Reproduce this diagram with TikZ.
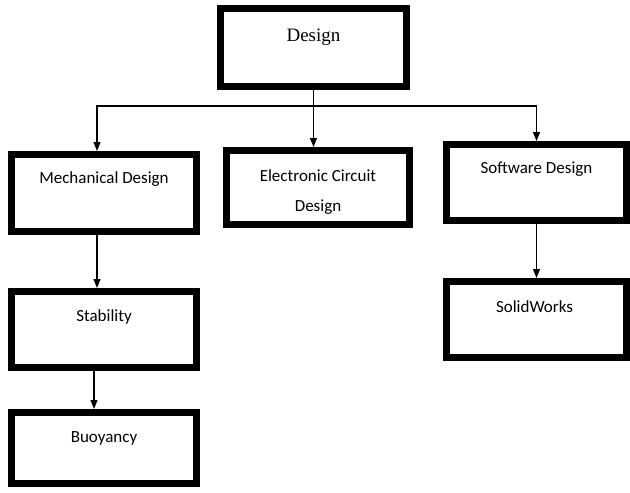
\documentclass[tikz,border=0pt]{standalone}
\usepackage{fontspec}
\setmainfont{Carlito}
\newfontfamily\titlefont{Liberation Serif}
\usetikzlibrary{arrows.meta, positioning}

\begin{document}
\begin{tikzpicture}[x=1pt, y=-1pt,
    box/.style={draw, line width=7pt, inner sep=0pt},
    txt/.style={anchor=center, align=center, font=\fontsize{17}{30}\selectfont},
    link/.style={line width=1.2pt},
    arr/.style={link, -{Triangle[length=9pt, width=7pt]}}]

    % Fix the page size
    \useasboundingbox (0,0) rectangle (630,493);

    % Draw the boxes
    \foreach \name/\x/\y/\w/\h/\off/\text in {
            design/313.5/47.5/186/78/32/{\titlefont\fontsize{19}{23}\selectfont Design},
            mech/104/193/185/77/28/Mechanical Design,
            elec/318/187.5/183/74/45/Electronic Circuit\\Design,
            soft/536.5/182.5/180/76/28/Software Design,
            stab/104/329.5/185/76/29/Stability,
            buoy/104/448/185/71/29/Buoyancy,
            solid/536.5/319.5/180/76/29/SolidWorks
        } {
        \node[box, minimum width=\w pt, minimum height=\h pt,
              label={[txt, yshift=-\off pt]north:\text}] (\name) at (\x,\y) {};
    }

    % Branch from the top box
    \coordinate (split) at ([yshift=-16pt]design.south);
    \draw[link] (design.south) -- (split);
    \draw[arr] (split) -| ([xshift=-7pt]mech.north);
    \draw[arr] (split) -- (split |- elec.north);
    \draw[arr] (split) -| (soft.north);

    % Lower levels
    \draw[arr] ([xshift=-7pt]mech.south) -- ([xshift=-7pt]stab.north);
    \draw[arr] ([xshift=-10pt]stab.south) -- ([xshift=-10pt]buoy.north);
    \draw[arr] (soft.south) -- (solid.north);

\end{tikzpicture}
\end{document}
